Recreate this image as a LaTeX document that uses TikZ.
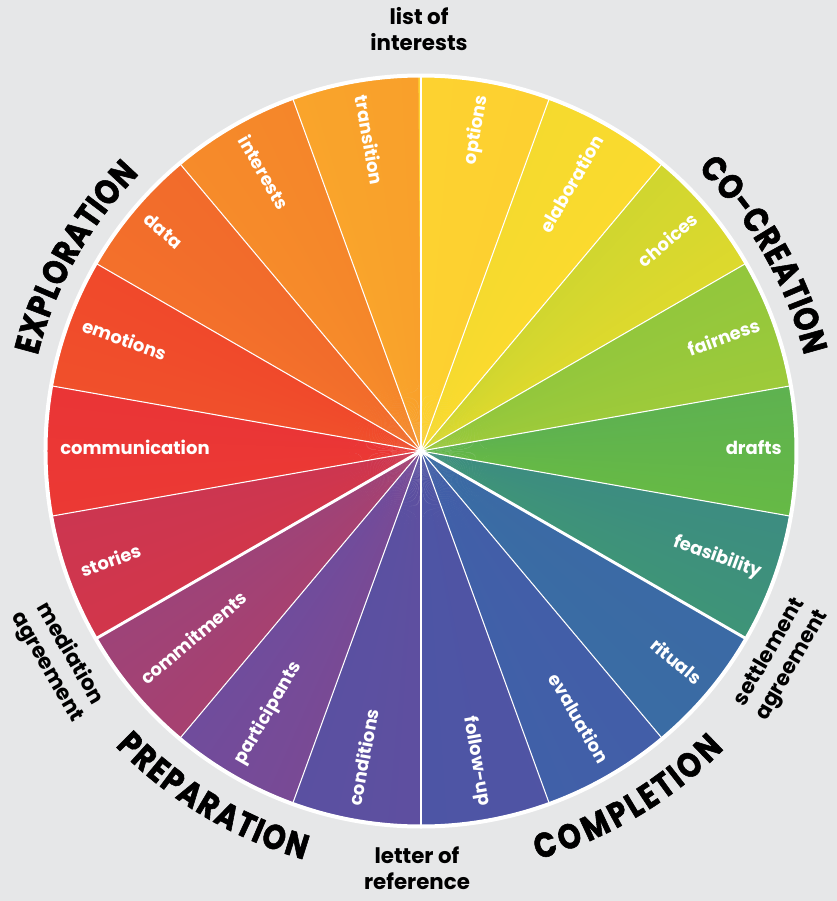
\documentclass[tikz,border=0pt]{standalone}
\usepackage{fontspec}
\setmainfont{Poppins}
\newfontfamily\phasefont{Poppins}[FakeStretch=0.84, FakeBold=1.6]
\usepackage{xcolor}
\usetikzlibrary{decorations.text}

\definecolor{paper}{HTML}{E6E7E8}
% colour at every spoke, from the top going anticlockwise
\definecolor{wheel0}{HTML}{FCB62D}
\definecolor{wheel1}{HTML}{F9A02B}
\definecolor{wheel2}{HTML}{F5862A}
\definecolor{wheel3}{HTML}{F26B2B}
\definecolor{wheel4}{HTML}{F0492B}
\definecolor{wheel5}{HTML}{EA3536}
\definecolor{wheel6}{HTML}{CC3650}
\definecolor{wheel7}{HTML}{9E4378}
\definecolor{wheel8}{HTML}{704C9C}
\definecolor{wheel9}{HTML}{5A50A1}
\definecolor{wheel10}{HTML}{4D55A5}
\definecolor{wheel11}{HTML}{4060A8}
\definecolor{wheel12}{HTML}{3A6CA4}
\definecolor{wheel13}{HTML}{3E9478}
\definecolor{wheel14}{HTML}{66B946}
\definecolor{wheel15}{HTML}{9DCA3A}
\definecolor{wheel16}{HTML}{DDD92D}
\definecolor{wheel17}{HTML}{FBDA2E}
\definecolor{wheel18}{HTML}{FDD030}

\tikzset{
  spoke/.style={white, line width=0.8pt},
  phase spoke/.style={white, line width=2.2pt},
  slice label/.style={text=white, inner sep=0pt, font=\bfseries\fontsize{13.5}{16}\selectfont},
  milestone/.style={black, inner sep=0pt, align=center, font=\bfseries\fontsize{16}{19.5}\selectfont},
  phase title/.style={decorate, decoration={text effects along path, text={#1},
      text effects/.cd, text along path, fit text to path,
      characters={text=black, inner sep=0pt, font=\phasefont\bfseries\fontsize{26}{30}\selectfont}}},
}

\begin{document}
\begin{tikzpicture}[x=0.75pt, y=0.75pt]
             \fill[paper] (-421,-450) rectangle (416,451);
             \coordinate (hub) at (0,0);

             % the wheel: twenty thin wedges per slice
             \foreach \k [evaluate=\k as \n using int(\k+1)] in {0,...,17}
               \foreach \s [evaluate=\s as \p using int(97.5-5*\s)] in {0,...,19}
                 \fill[wheel\k!\p!wheel\n] (hub) -- ({90+20*\k+\s}:374)
                   arc[start angle={90+20*\k+\s}, end angle={91.4+20*\k+\s}, radius=374] -- cycle;

             \draw[white, line width=3pt] (hub) circle[radius=375.5];

             \foreach \a in {110,130,150,170,190,230,250,290,310,350,10,30,50,70}
               \draw[spoke] (hub) -- (\a:374);
             \foreach \a in {90,210,270,330}
               \draw[phase spoke] (hub) -- (\a:374);

             % right half reads outwards, left half inwards
             \foreach \a/\t/\nm in {80/options/opt, 60/elaboration/elab, 40/choices/choi,
                 20/fairness/fair, 0/drafts/draf, -20/feasibility/feas, -40/rituals/ritu,
                 -60/evaluation/eval, -80/follow-up/foll}
               \node[slice label, rotate=\a, anchor=mid east] (\nm) at (\a:361) {\t};
             \foreach \a/\t/\nm in {100/transition/tran, 120/interests/inte, 140/data/data,
                 160/emotions/emot, 180/communication/comm, 200/stories/stor,
                 220/commitments/cmts, 240/participants/part, 260/conditions/cond}
               \node[slice label, rotate=\a-180, anchor=mid west] (\nm) at (\a:361) {\t};

             \node[milestone, anchor=north] (list) at (-2,444) {list of\\interests};
             \node[milestone, anchor=south] (letter) at (-4,-439) {letter of\\reference};
             \node[milestone, rotate=60] (settle) at (-30:416) {settlement\\agreement};
             \node[milestone, rotate=-60] (mediate) at (210:419) {mediation\\agreement};

             % phase names spread over their arcs
             \path[phase title=EXPLORATION] (166:395) arc[start angle=166, end angle=135.5, radius=395];
             \path[phase title=CO-CREATION] (45.5:395) arc[start angle=45.5, end angle=14, radius=395];
             \path[phase title=PREPARATION] (224:425) arc[start angle=224, end angle=254, radius=425];
             \path[phase title=COMPLETION] (286:425) arc[start angle=286, end angle=315.5, radius=425];
\end{tikzpicture}
\end{document}
